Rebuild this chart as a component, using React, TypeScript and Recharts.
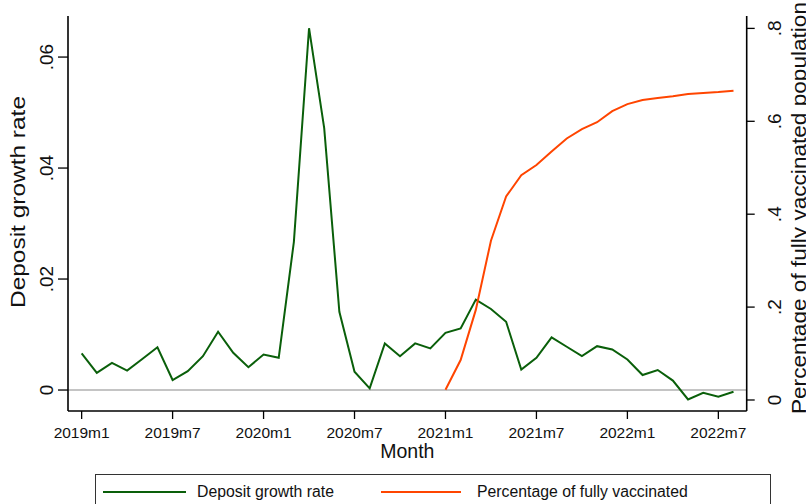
import React from 'react';
import { LineChart, Line, XAxis, YAxis, ReferenceLine } from 'recharts';

const months = [
  '2019m1', '2019m2', '2019m3', '2019m4', '2019m5', '2019m6', '2019m7', '2019m8', '2019m9', '2019m10', '2019m11', '2019m12',
  '2020m1', '2020m2', '2020m3', '2020m4', '2020m5', '2020m6', '2020m7', '2020m8', '2020m9', '2020m10', '2020m11', '2020m12',
  '2021m1', '2021m2', '2021m3', '2021m4', '2021m5', '2021m6', '2021m7', '2021m8', '2021m9', '2021m10', '2021m11', '2021m12',
  '2022m1', '2022m2', '2022m3', '2022m4', '2022m5', '2022m6', '2022m7', '2022m8',
];

const depositGrowth = [
  0.0066, 0.0031, 0.0049, 0.0035, 0.0056, 0.0077, 0.0018, 0.0034, 0.0061, 0.0105, 0.0067, 0.0041,
  0.0064, 0.0058, 0.0267, 0.0652, 0.0472, 0.0141, 0.0033, 0.0003, 0.0084, 0.0061, 0.0084, 0.0075,
  0.0103, 0.0111, 0.0163, 0.0146, 0.0123, 0.0037, 0.0058, 0.0095, 0.0078, 0.0061, 0.0079, 0.0073,
  0.0055, 0.0027, 0.0036, 0.0017, -0.0017, -0.0005, -0.0012, -0.0003,
];

const vaccinated: (number | null)[] = [
  null, null, null, null, null, null, null, null, null, null, null, null,
  null, null, null, null, null, null, null, null, null, null, null, null,
  0.022, 0.086, 0.194, 0.343, 0.438, 0.484, 0.506, 0.535, 0.563, 0.583, 0.598, 0.622,
  0.637, 0.646, 0.650, 0.654, 0.659, 0.661, 0.663, 0.666,
];

const xTickLabels = ['2019m1', '2019m7', '2020m1', '2020m7', '2021m1', '2021m7', '2022m1', '2022m7'];
const leftTicks = [0, 0.02, 0.04, 0.06];
const leftTickLabels = ['0', '.02', '.04', '.06'];
const rightTicks = [0, 0.2, 0.4, 0.6, 0.8];
const rightTickLabels = ['0', '.2', '.4', '.6', '.8'];

const seriesNames = ['Deposit growth rate', 'Percentage of fully vaccinated'];
const xTitle = 'Month';
const leftTitle = 'Deposit growth rate';
const rightTitle = 'Percentage of fully vaccinated population';

const GREEN = '#0a5f0a';
const ORANGE = '#ff4500';
const FONT = '"Liberation Sans", Arial, Helvetica, sans-serif';
const TEXT = '#111';

const data = months.map((m, i) => ({
  idx: i,
  month: m,
  deposit: depositGrowth[i],
  vacc: vaccinated[i],
}));

const xTicks = xTickLabels.map((t) => months.indexOf(t));

const XTick = (props: any) => {
  const { x, y, payload } = props;
  return (
    <text x={x} y={y} dy="0.71em" textAnchor="middle" fontSize={15.5} fontFamily={FONT} fill={TEXT}>
      {months[payload.value]}
    </text>
  );
};

const LeftTick = (props: any) => {
  const { x, y, payload } = props;
  const i = leftTicks.indexOf(payload.value);
  return (
    <text x={x} y={y} transform={`rotate(-90 ${x} ${y})`} textAnchor="middle" fontSize={19} fontFamily={FONT} fill={TEXT}>
      {leftTickLabels[i]}
    </text>
  );
};

const RightTick = (props: any) => {
  const { x, y, payload } = props;
  const i = rightTicks.indexOf(payload.value);
  return (
    <text x={x} y={y} transform={`rotate(-90 ${x} ${y})`} textAnchor="middle" fontSize={19} fontFamily={FONT} fill={TEXT}>
      {rightTickLabels[i]}
    </text>
  );
};

export default function App() {
  return (
    <div style={{ position: 'absolute', left: 0, top: 0, width: 806, height: 504, overflow: 'hidden', background: '#fff' }}>
      <LineChart width={806} height={504} data={data} margin={{ top: 16, right: 0, bottom: 0, left: 0 }}>
        <XAxis
          xAxisId={0}
          dataKey="idx"
          type="number"
          domain={[-0.9, 43.87]}
          allowDataOverflow
          ticks={xTicks}
          interval={0}
          height={93}
          tickSize={8}
          tickMargin={8}
          tick={<XTick />}
          axisLine={{ stroke: '#000', strokeWidth: 1.6 }}
          tickLine={{ stroke: '#000', strokeWidth: 1.3 }}
          label={{
            content: (p: any) => {
              const vb = p.viewBox;
              return (
                <text x={vb.x + vb.width / 2} y={vb.y + 47} textAnchor="middle" fontSize={19.5} fontFamily={FONT} fill={TEXT}>
                  {xTitle}
                </text>
              );
            },
          }}
        />
        <XAxis
          xAxisId="top"
          orientation="top"
          dataKey="idx"
          type="number"
          domain={[-0.9, 43.87]}
          allowDataOverflow
          height={0}
          tick={false}
          tickLine={false}
          axisLine={{ stroke: '#000', strokeWidth: 1.6 }}
        />
        <YAxis
          yAxisId="left"
          orientation="left"
          type="number"
          width={68}
          domain={[-0.00378, 0.0674]}
          allowDataOverflow
          ticks={leftTicks}
          interval={0}
          tickSize={10}
          tickMargin={5}
          tick={<LeftTick />}
          axisLine={{ stroke: '#000', strokeWidth: 1.6 }}
          tickLine={{ stroke: '#000', strokeWidth: 1.3 }}
          label={{
            content: (p: any) => {
              const vb = p.viewBox;
              const cx = vb.x + 25;
              const cy = 202;
              return (
                <text
                  x={cx}
                  y={cy}
                  transform={`rotate(-90 ${cx} ${cy})`}
                  textAnchor="middle"
                  fontSize={21}
                  textLength={212}
                  lengthAdjust="spacingAndGlyphs"
                  fontFamily={FONT}
                  fill={TEXT}
                >
                  {leftTitle}
                </text>
              );
            },
          }}
        />
        <YAxis
          yAxisId="right"
          orientation="right"
          type="number"
          width={59.3}
          domain={[-0.0237, 0.8267]}
          allowDataOverflow
          ticks={rightTicks}
          interval={0}
          tickSize={8}
          tickMargin={26}
          tick={<RightTick />}
          axisLine={{ stroke: '#000', strokeWidth: 1.6 }}
          tickLine={{ stroke: '#000', strokeWidth: 1.3 }}
          label={{
            content: (p: any) => {
              const vb = p.viewBox;
              const cx = vb.x + 59;
              const cy = 208;
              return (
                <text
                  x={cx}
                  y={cy}
                  transform={`rotate(-90 ${cx} ${cy})`}
                  textAnchor="middle"
                  fontSize={21}
                  textLength={412}
                  lengthAdjust="spacingAndGlyphs"
                  fontFamily={FONT}
                  fill={TEXT}
                >
                  {rightTitle}
                </text>
              );
            },
          }}
        />
        <ReferenceLine yAxisId="left" y={0} stroke="#c4c4c4" strokeWidth={2} />
        <Line
          yAxisId="left"
          type="linear"
          dataKey="deposit"
          stroke={GREEN}
          strokeWidth={2}
          dot={false}
          activeDot={false}
          isAnimationActive={false}
        />
        <Line
          yAxisId="right"
          type="linear"
          dataKey="vacc"
          stroke={ORANGE}
          strokeWidth={2}
          dot={false}
          activeDot={false}
          connectNulls={false}
          isAnimationActive={false}
        />
      </LineChart>
      <div
        style={{
          position: 'absolute',
          left: 95,
          top: 474,
          width: 676,
          height: 50,
          border: '1px solid #333',
          boxSizing: 'border-box',
          fontFamily: FONT,
          fontSize: 15.8,
          color: TEXT,
        }}
      >
        <div style={{ position: 'absolute', left: 7, top: 16, width: 83, height: 2, background: GREEN }} />
        <div style={{ position: 'absolute', left: 101, top: 7, whiteSpace: 'nowrap', lineHeight: '20px' }}>{seriesNames[0]}</div>
        <div style={{ position: 'absolute', left: 285, top: 16, width: 80, height: 2, background: ORANGE }} />
        <div style={{ position: 'absolute', left: 381, top: 7, whiteSpace: 'nowrap', lineHeight: '20px' }}>{seriesNames[1]}</div>
      </div>
    </div>
  );
}
